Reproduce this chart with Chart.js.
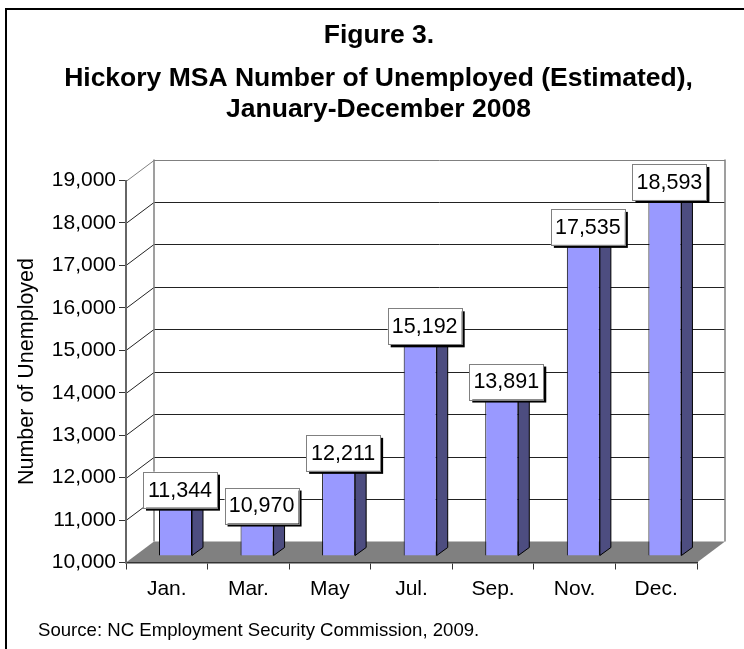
<!DOCTYPE html>
<html>
<head>
<meta charset="utf-8">
<title>Figure 3</title>
<script src="https://cdn.jsdelivr.net/npm/chart.js@4"></script>
<style>
  html, body { margin: 0; padding: 0; background: #fff; overflow: hidden; }
  #wrap { width: 744px; height: 649px; position: relative; }
</style>
</head>
<body>
<div id="wrap"><canvas id="theChart" width="744" height="649"></canvas></div>
<script>
// values
var months = ['Jan.', 'Mar.', 'May', 'Jul.', 'Sep.', 'Nov.', 'Dec.'];
var unemployed = [11344, 10970, 12211, 15192, 13891, 17535, 18593];
var yMin = 10000;
var yMax = 19000;
var yStep = 1000;
var titleLines = ['Figure 3.', 'Hickory MSA Number of Unemployed (Estimated),', 'January-December 2008'];
var yAxisTitle = 'Number of Unemployed';
var sourceNote = 'Source: NC Employment Security Commission, 2009.';

var font = '"Liberation Sans", Arial, sans-serif';

// depth of the fake 3d box and of the bars
var wallDx = 28, wallDy = 21;
var barShiftX = 8.7, barShiftY = 6.5;
var barDx = 11, barDy = 8;

function fmt(v) { return Number(v).toLocaleString('en-US'); }

function poly(ctx, pts, fill) {
  ctx.beginPath();
  ctx.moveTo(pts[0][0], pts[0][1]);
  for (var i = 1; i < pts.length; i++) ctx.lineTo(pts[i][0], pts[i][1]);
  ctx.closePath();
  ctx.fillStyle = fill;
  ctx.fill();
}

// frame, back wall and floor go under the scales
var boxPlugin = {
  id: 'box',
  beforeDraw: function (chart) {
    var ctx = chart.ctx, a = chart.chartArea, y = chart.scales.y;
    ctx.save();
    ctx.strokeStyle = '#000';
    ctx.lineWidth = 2;
    ctx.strokeRect(6, 9, 900, 900);

    poly(ctx, [[a.left, a.bottom], [a.left + wallDx, a.bottom - wallDy],
      [a.right + wallDx, a.bottom - wallDy], [a.right, a.bottom]], '#808080');

    ctx.lineWidth = 1;
    for (var v = yMin + yStep; v <= yMax; v += yStep) {
      var py = Math.round(y.getPixelForValue(v)) + 0.5;
      ctx.strokeStyle = v == yMax ? '#808080' : '#222';
      ctx.beginPath();
      ctx.moveTo(a.left, py);
      ctx.lineTo(a.left + wallDx, py - wallDy);
      ctx.lineTo(a.right + wallDx, py - wallDy);
      ctx.stroke();
    }
    ctx.strokeStyle = '#808080';
    ctx.lineWidth = 1.5;
    ctx.beginPath();
    ctx.moveTo(a.left + wallDx, a.top - wallDy);
    ctx.lineTo(a.left + wallDx, a.bottom - wallDy);
    ctx.moveTo(a.right + wallDx, a.top - wallDy);
    ctx.lineTo(a.right + wallDx, a.bottom - wallDy);
    ctx.stroke();
    ctx.restore();
  }
};

// sides and tops of the bars, the fronts are the real bars shifted into the box
var barDepthPlugin = {
  id: 'barDepth',
  beforeDatasetsDraw: function (chart) {
    var ctx = chart.ctx;
    ctx.save();
    ctx.translate(barShiftX, -barShiftY);
    chart.getDatasetMeta(0).data.forEach(function (bar) {
      var x1 = bar.x + bar.width / 2, x0 = bar.x - bar.width / 2, top = bar.y, base = bar.base;
      var side = [[x1, top], [x1 + barDx, top - barDy], [x1 + barDx, base - barDy], [x1, base]];
      var lid = [[x0, top], [x1, top], [x1 + barDx, top - barDy], [x0 + barDx, top - barDy]];
      poly(ctx, side, '#4d4d80');
      ctx.strokeStyle = '#000';
      ctx.stroke();
      poly(ctx, lid, '#7a7acc');
      ctx.stroke();
    });
    ctx.restore();
    ctx.save();
    ctx.translate(barShiftX, -barShiftY);
  },
  afterDatasetsDraw: function (chart) {
    chart.ctx.restore();
  }
};

// heading, boxed value labels and the source line
var labelPlugin = {
  id: 'valueBoxes',
  afterDraw: function (chart) {
    var ctx = chart.ctx;
    ctx.save();
    ctx.textAlign = 'center';
    ctx.fillStyle = '#000';
    ctx.font = 'bold 26.5px ' + font;
    ctx.fillText(titleLines[0], 379, 43);
    ctx.fillText(titleLines[1], 378.5, 86);
    ctx.fillText(titleLines[2], 378.5, 117);

    ctx.font = '21.5px ' + font;
    ctx.textBaseline = 'middle';
    chart.getDatasetMeta(0).data.forEach(function (bar, i) {
      var cx = bar.x + barShiftX + 4.5;
      var cy = bar.y - barShiftY - 9.3;
      var w = 74, h = 36;
      ctx.fillStyle = '#000';
      ctx.fillRect(cx - w / 2 + 3, cy - h / 2 + 3, w, h);
      ctx.fillStyle = '#fff';
      ctx.fillRect(cx - w / 2, cy - h / 2, w, h);
      ctx.strokeStyle = '#808080';
      ctx.lineWidth = 1;
      ctx.strokeRect(Math.round(cx - w / 2) + 0.5, Math.round(cy - h / 2) + 0.5, w, h);
      ctx.fillStyle = '#000';
      ctx.fillText(fmt(unemployed[i]), cx, cy + 1);
    });
    ctx.font = '18.6px ' + font;
    ctx.textAlign = 'left';
    ctx.textBaseline = 'alphabetic';
    ctx.fillStyle = '#000';
    ctx.fillText(sourceNote, 38, 636);
    ctx.restore();
  }
};

var myChart = new Chart(document.getElementById('theChart').getContext('2d'), {
  type: 'bar',
  data: {
    labels: months,
    datasets: [{
      data: unemployed,
      base: yMin,
      backgroundColor: '#9999ff',
      borderColor: '#000',
      borderWidth: 1,
      barPercentage: 0.405,
      categoryPercentage: 1,
      clip: false
    }]
  },
  options: {
    responsive: false,
    animation: false,
    layout: { padding: { top: 180.5, right: 47, bottom: 0, left: 0 } },
    plugins: {
      legend: { display: false },
      tooltip: { enabled: false }
    },
    scales: {
      x: {
        afterFit: function (scale) { scale.height = 86.5; },
        grid: { drawOnChartArea: false, tickLength: 7, color: '#333' },
        border: { color: '#333', width: 1.5 },
        ticks: { color: '#000', padding: 7, maxRotation: 0, font: { family: font, size: 21 } }
      },
      y: {
        min: yMin,
        max: yMax,
        afterFit: function (scale) { scale.width = 126; },
        title: {
          display: true,
          text: yAxisTitle,
          color: '#000',
          font: { family: font, size: 21.5 },
          padding: { top: 14, bottom: 0 }
        },
        grid: { drawOnChartArea: false, tickLength: 7, color: '#333' },
        border: { color: '#666', width: 2 },
        ticks: {
          stepSize: yStep,
          color: '#000',
          padding: 3,
          font: { family: font, size: 21 },
          callback: function (v) { return fmt(v); }
        }
      }
    }
  },
  plugins: [boxPlugin, barDepthPlugin, labelPlugin]
});
</script>
</body>
</html>
